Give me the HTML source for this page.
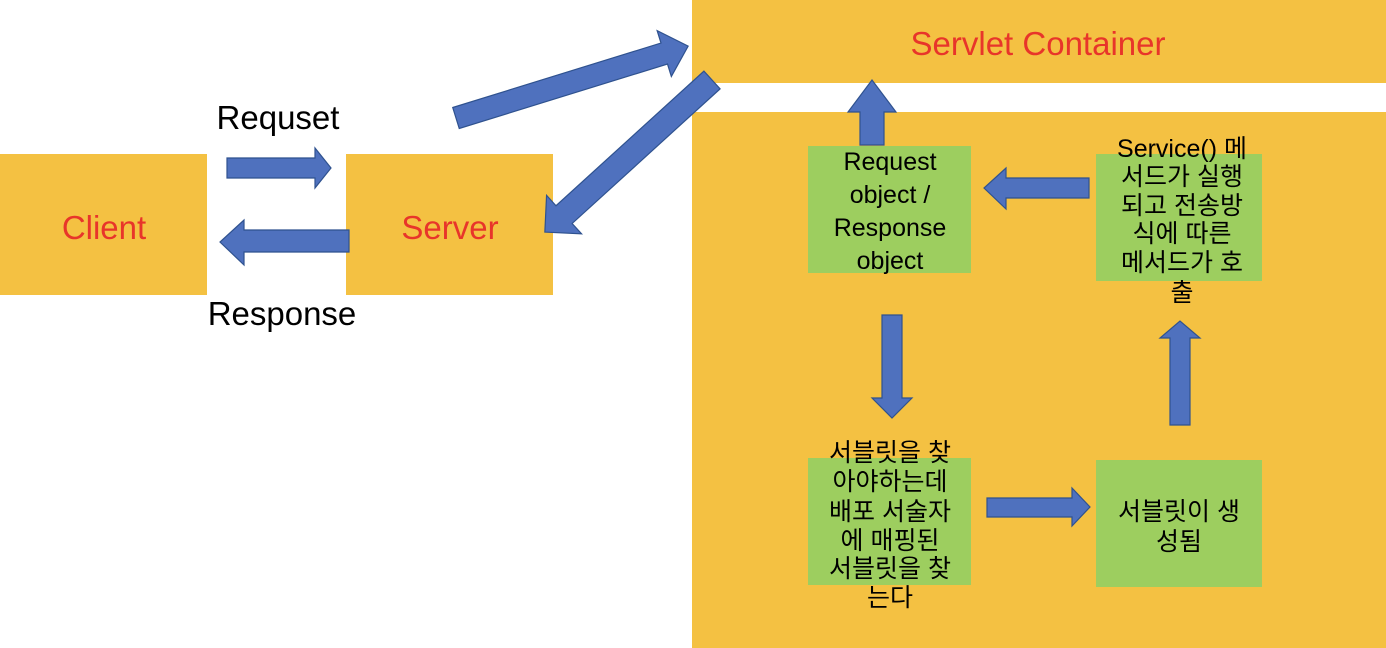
<!DOCTYPE html>
<html><head><meta charset="utf-8"><style>
html,body{margin:0;padding:0;background:#fff;}
svg{display:block;}
text{font-family:"Liberation Sans","Noto Sans CJK KR",sans-serif;}
</style></head><body>
<svg width="1386" height="648" viewBox="0 0 1386 648" xmlns="http://www.w3.org/2000/svg">
<g fill="#F4C142">
<rect x="0" y="154" width="207" height="141"/>
<rect x="346" y="154" width="207" height="141"/>
<rect x="692" y="0" width="694" height="83"/>
<rect x="692" y="112" width="694" height="536"/>
</g>
<g fill="#9DCE5F">
<rect x="808" y="146" width="163" height="127"/>
<rect x="1096" y="154" width="166" height="127"/>
<rect x="808" y="458" width="163" height="127"/>
<rect x="1096" y="460" width="166" height="127"/>
</g>
<g fill="#4F71BE" stroke="#2F528F" stroke-width="1.2">
<polygon points="227,158 315,158 315,148 331,168 315,188 315,178 227,178"/>
<polygon points="349,230 244,230 244,220 220,242 244,265 244,252 349,252"/>
<g transform="translate(456,118) rotate(-17.2)">
<polygon points="0,-11 218,-11 218,-24 243,0 218,24 218,11 0,11"/>
</g>
<g transform="translate(712,80) rotate(137.7)">
<polygon points="0,-12 200,-12 200,-26 226,0 200,26 200,12 0,12"/>
</g>
<polygon points="860,145 860,112 848,112 872,80 896,112 884,112 884,145"/>
<polygon points="1089,178 1006,178 1006,168 984,188 1006,209 1006,198 1089,198"/>
<polygon points="882,315 902,315 902,398 912,398 892,418 872,398 882,398"/>
<polygon points="987,498 1072,498 1072,488 1090,507 1072,526 1072,517 987,517"/>
<polygon points="1170,425 1170,338 1160,338 1180,321 1200,338 1190,338 1190,425"/>
</g>
<g fill="#E8352A" font-size="33" text-anchor="middle">
<text x="104" y="239">Client</text>
<text x="450" y="239">Server</text>
<text x="1038" y="55">Servlet Container</text>
</g>
<g fill="#000" font-size="33" text-anchor="middle">
<text x="278" y="129">Requset</text>
<text x="282" y="325">Response</text>
</g>
<g fill="#000" font-size="25" text-anchor="middle">
<text x="890" y="170">Request</text>
<text x="890" y="203">object /</text>
<text x="890" y="236">Response</text>
<text x="890" y="269">object</text>
</g>
<g fill="#000" font-size="25" text-anchor="middle">
<text x="1182" y="157">Service() 메</text>
<text x="1182" y="185">서드가 실행</text>
<text x="1182" y="214">되고 전송방</text>
<text x="1182" y="242">식에 따른</text>
<text x="1182" y="271">메서드가 호</text>
<text x="1182" y="301">출</text>
<text x="890" y="461">서블릿을 찾</text>
<text x="890" y="490">아야하는데</text>
<text x="890" y="520">배포 서술자</text>
<text x="890" y="549">에 매핑된</text>
<text x="890" y="577">서블릿을 찾</text>
<text x="890" y="606">는다</text>
<text x="1179" y="520">서블릿이 생</text>
<text x="1179" y="550">성됨</text>
</g>
</svg>
</body></html>
